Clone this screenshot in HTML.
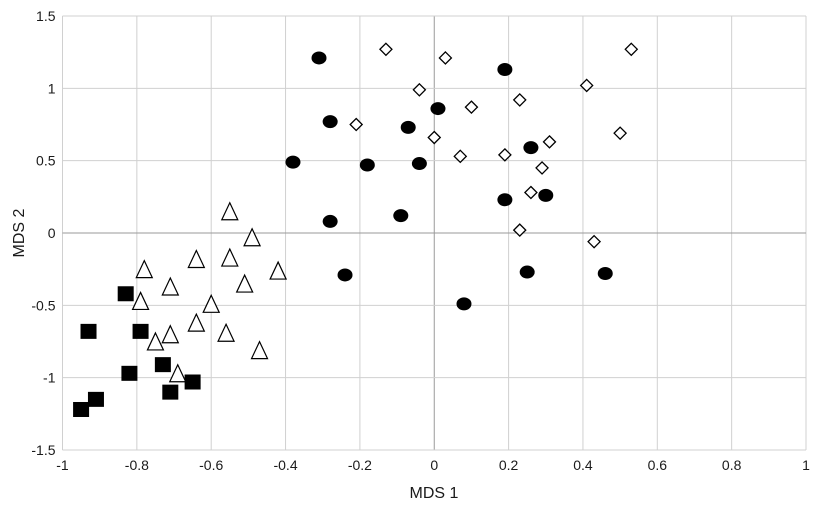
<!DOCTYPE html>
<html><head><meta charset="utf-8"><style>
html,body{margin:0;padding:0;background:#fff;}
svg text{font-family:"Liberation Sans",sans-serif;font-size:14px;fill:#1a1a1a;}
</style></head><body>
<svg id="chart" width="825" height="509" xmlns="http://www.w3.org/2000/svg">
<g id="grid"></g>
<g id="marks"></g>
<g id="labels"></g>
<text x="434" y="498" text-anchor="middle" style="font-size:16px">MDS 1</text>
<text transform="translate(24,233) rotate(-90)" text-anchor="middle" style="font-size:16px">MDS 2</text>
</svg>
<script>
const xTicks=[-1,-0.8,-0.6,-0.4,-0.2,0,0.2,0.4,0.6,0.8,1];
const xTickLabels=["-1","-0.8","-0.6","-0.4","-0.2","0","0.2","0.4","0.6","0.8","1"];
const yTicks=[-1.5,-1,-0.5,0,0.5,1,1.5];
const yTickLabels=["-1.5","-1","-0.5","0","0.5","1","1.5"];
const circleX=[-0.31,-0.28,-0.38,-0.18,-0.07,-0.04,0.01,0.19,0.26,-0.28,-0.09,0.19,0.30,-0.24,0.25,0.46,0.08];
const circleY=[1.21,0.77,0.49,0.47,0.73,0.48,0.86,1.13,0.59,0.08,0.12,0.23,0.26,-0.29,-0.27,-0.28,-0.49];
const diamondX=[-0.13,0.03,-0.04,-0.21,0.10,0.23,0.41,0.53,0.50,0.00,0.07,0.19,0.31,0.29,0.26,0.23,0.43];
const diamondY=[1.27,1.21,0.99,0.75,0.87,0.92,1.02,1.27,0.69,0.66,0.53,0.54,0.63,0.45,0.28,0.02,-0.06];
const triangleX=[-0.55,-0.49,-0.64,-0.55,-0.78,-0.42,-0.71,-0.51,-0.79,-0.60,-0.64,-0.71,-0.56,-0.75,-0.47,-0.69];
const triangleY=[0.14,-0.04,-0.19,-0.18,-0.26,-0.27,-0.38,-0.36,-0.48,-0.50,-0.63,-0.71,-0.70,-0.76,-0.82,-0.98];
const squareX=[-0.83,-0.93,-0.79,-0.73,-0.82,-0.65,-0.71,-0.91,-0.95];
const squareY=[-0.42,-0.68,-0.68,-0.91,-0.97,-1.03,-1.10,-1.15,-1.22];

const X0=62.5,X1=806,Y0=450,Y1=16;
const sx=v=>X0+(v+1)/2*(X1-X0);
const sy=v=>Y0-(v+1.5)/3*(Y0-Y1);
const NS="http://www.w3.org/2000/svg";
function mk(tag,attrs,parent){const e=document.createElementNS(NS,tag);for(const k in attrs)e.setAttribute(k,attrs[k]);parent.appendChild(e);return e;}
const grid=document.getElementById('grid'),marks=document.getElementById('marks'),labels=document.getElementById('labels');
xTicks.forEach((t,i)=>{
  const l=mk('line',{x1:sx(t),x2:sx(t),y1:Y1,y2:Y0,stroke:t===0?'#9a9a9a':'#d0d0d0','stroke-width':1},grid);
  
  
  const tx=mk('text',{x:sx(t),y:Y0+20,'text-anchor':'middle'},labels);
  tx.textContent=xTickLabels[i];
  
  
});
yTicks.forEach((t,i)=>{
  const l=mk('line',{x1:X0,x2:X1,y1:sy(t),y2:sy(t),stroke:t===0?'#9a9a9a':'#d0d0d0','stroke-width':1},grid);
  
  
  const tx=mk('text',{x:X0-7,y:sy(t)+5,'text-anchor':'end'},labels);
  tx.textContent=yTickLabels[i];
  
  
});
circleX.forEach((v,i)=>{
  const e=mk('ellipse',{cx:sx(v),cy:sy(circleY[i]),rx:7.5,ry:6.5,fill:'#000'},marks);
  
  
});
diamondX.forEach((v,i)=>{
  const x=sx(v),y=sy(diamondY[i]);
  const e=mk('polygon',{points:`${x},${y-6} ${x+6},${y} ${x},${y+6} ${x-6},${y}`,fill:'#fff',stroke:'#000','stroke-width':1.3},marks);
  
  
});
triangleX.forEach((v,i)=>{
  const x=sx(v),y=sy(triangleY[i]);
  const e=mk('polygon',{points:`${x},${y-10} ${x+8},${y+7} ${x-8},${y+7}`,fill:'#fff',stroke:'#000','stroke-width':1.2},marks);
  
  
});
squareX.forEach((v,i)=>{
  const x=sx(v),y=sy(squareY[i]);
  const e=mk('rect',{x:x-8,y:y-7.5,width:16,height:15,fill:'#000'},marks);
  
  
});
</script>
</body></html>
